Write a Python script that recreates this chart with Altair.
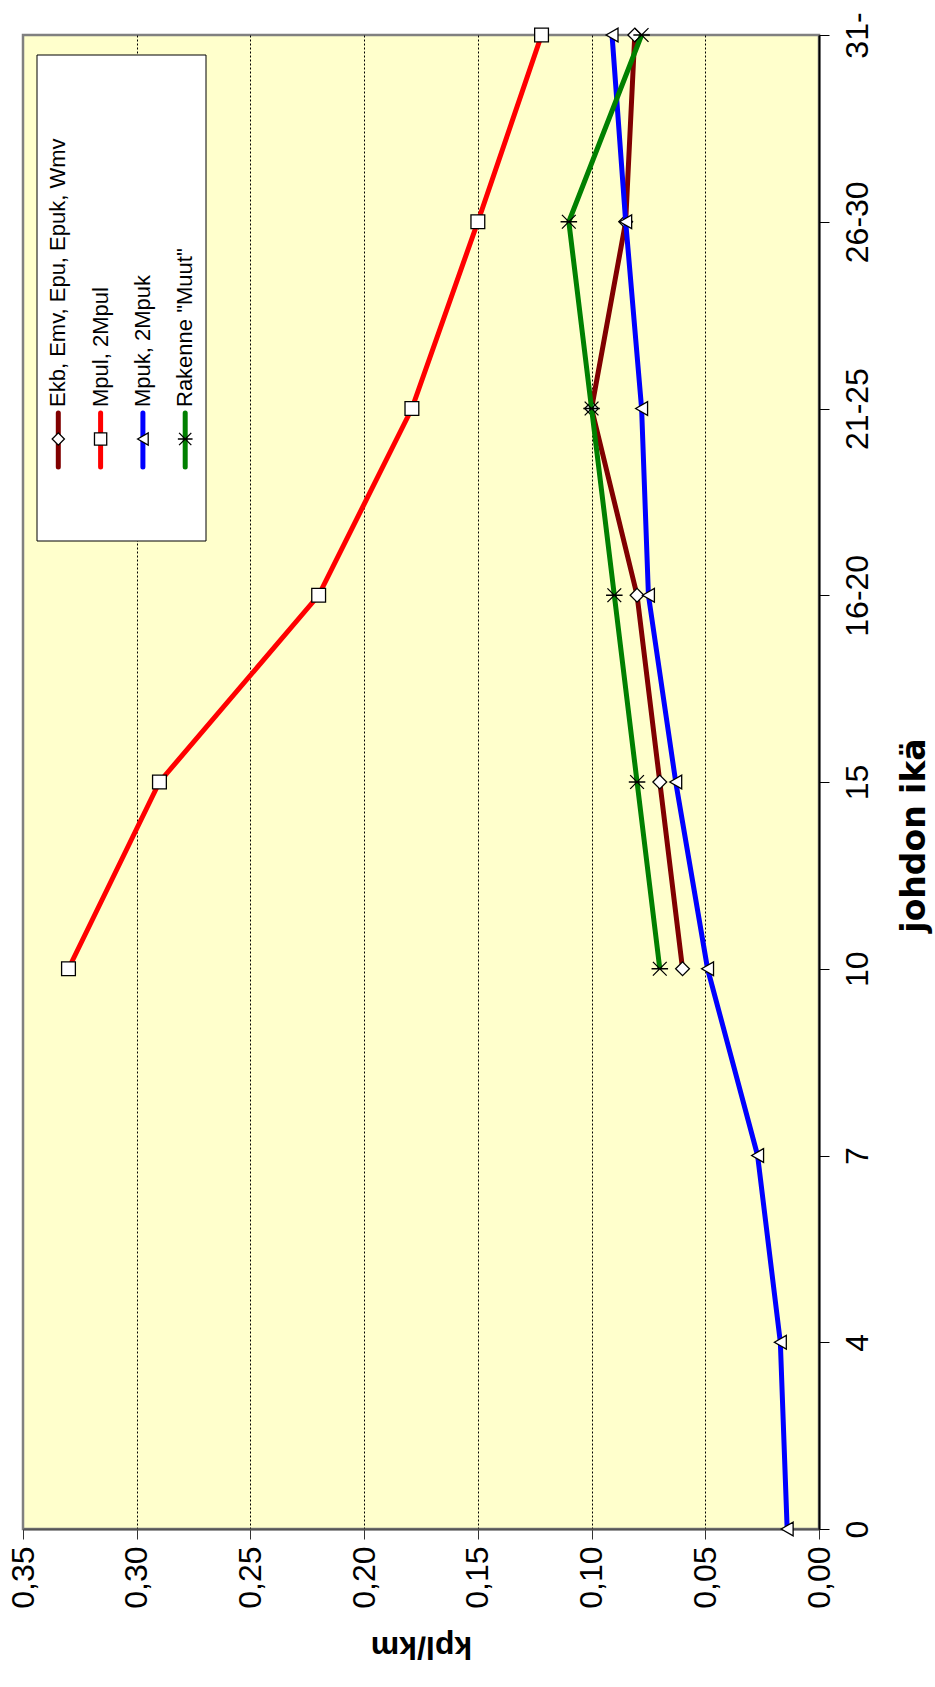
import json
import altair as alt
import pandas as pd

# Fault rate (kpl/km) by line age class, per conductor structure group
ages = ["0", "4", "7", "10", "15", "16-20", "21-25", "26-30", "31-"]
series_names = ["Ekb, Emv, Epu, Epuk, Wmv", "Mpul, 2Mpul", "Mpuk, 2Mpuk", 'Rakenne "Muut"']
ekb = [None, None, None, 0.06, 0.07, 0.08, 0.10, 0.085, 0.081]
mpul = [None, None, None, 0.33, 0.29, 0.22, 0.179, 0.15, 0.122]
mpuk = [0.014, 0.017, 0.027, 0.049, 0.063, 0.075, 0.078, 0.085, 0.091]
muut = [None, None, None, 0.07, 0.08, 0.09, 0.10, 0.11, 0.078]
value_ticks = [0.0, 0.05, 0.10, 0.15, 0.20, 0.25, 0.30, 0.35]

colors = ["#800000", "#FF0000", "#0000FF", "#008000"]
STAR = "M-1,-1L1,1M-1,1L1,-1M-1.2,0L1.2,0"
shapes = ["diamond", "square", "triangle-left", STAR]

FONT = "Liberation Sans"
W, H = 796, 1494

rows = []
for name, vals in zip(series_names, [ekb, mpul, mpuk, muut]):
    for i, v in enumerate(vals):
        if v is not None:
            rows.append({"series": name, "pos": i, "age": ages[i], "value": v})
df = pd.DataFrame(rows)

x_axis = alt.Axis(
    orient="bottom",
    values=value_ticks,
    labelExpr="replace(format(datum.value, '.2f'), '.', ',')",
    labelAngle=270,
    labelAlign="right",
    labelBaseline="middle",
    labelFont=FONT,
    labelFontSize=32,
    labelColor="black",
    labelPadding=7,
    tickSize=10,
    tickColor="#333333",
    tickWidth=1,
    domainColor="#555555",
    domainWidth=2,
    grid=True,
    gridColor="black",
    gridDash=[2, 2],
    gridWidth=1,
    gridOpacity={"condition": {"test": "datum.value < 0.001 || datum.value > 0.349", "value": 0}, "value": 1},
    title="kpl/km",
    titleFont=FONT,
    titleFontSize=32,
    titleFontWeight="bold",
    titleColor="black",
    titleAngle=180,
    titleAlign="center",
    titleBaseline="middle",
    titleX=W / 2,
    titleY=117,
)

y_axis = alt.Axis(
    orient="right",
    values=list(range(len(ages))),
    labelExpr=json.dumps(ages) + "[datum.value]",
    labelAngle=270,
    labelAlign="center",
    labelBaseline="middle",
    labelFont=FONT,
    labelFontSize=32,
    labelColor="black",
    labelPadding=28,
    tickSize=10,
    tickColor="black",
    tickWidth=1,
    domainColor="black",
    domainWidth=2,
    grid=False,
    title="johdon ikä",
    titleFont="DejaVu Sans",
    titleFontSize=33,
    titleFontWeight="bold",
    titleColor="black",
    titleAngle=270,
    titleAlign="center",
    titleBaseline="middle",
    titleX=95,
    titleY=800,
)

x_enc = alt.X("value:Q", scale=alt.Scale(domain=[0, 0.35], reverse=True, nice=False, zero=False), axis=x_axis)
y_enc = alt.Y("pos:Q", scale=alt.Scale(domain=[0, len(ages) - 1], nice=False, zero=False), axis=y_axis)

base = alt.Chart(df)
layers = []
for name, col, shp in zip(series_names, colors, shapes):
    sub = base.transform_filter(alt.datum.series == name)
    layers.append(
        sub.mark_line(color=col, strokeWidth=5, strokeJoin="round").encode(
            x=x_enc, y=y_enc, order=alt.Order("pos:Q")
        )
    )
    layers.append(
        sub.mark_point(shape=shp, filled=True, fill="white", stroke="black",
                       strokeWidth=1.3, size=190, opacity=1).encode(x=x_enc, y=y_enc)
    )

# Legend drawn by hand so that it follows the rotated layout
one = pd.DataFrame({"k": [0]})
LEG_X0, LEG_X1, LEG_Y0, LEG_Y1 = 14, 183, 20, 506
ENTRY_X0, ENTRY_STEP = 35.3, 42.3
LINE_Y0, LINE_Y1, MARK_Y, TEXT_Y = 378, 432, 404, 372

layers.append(
    alt.Chart(one).mark_rect(fill="white", stroke="black", strokeWidth=1).encode(
        x=alt.value(LEG_X0), x2=alt.value(LEG_X1), y=alt.value(LEG_Y0), y2=alt.value(LEG_Y1)
    )
)
for i, (name, col, shp) in enumerate(zip(series_names, colors, shapes)):
    px = ENTRY_X0 + i * ENTRY_STEP
    layers.append(
        alt.Chart(one).mark_rule(color=col, strokeWidth=5, strokeCap="round").encode(
            x=alt.value(px), y=alt.value(LINE_Y0), y2=alt.value(LINE_Y1)
        )
    )
    layers.append(
        alt.Chart(one).mark_point(shape=shp, filled=True, fill="white", stroke="black",
                                  strokeWidth=1.3, size=150, opacity=1).encode(
            x=alt.value(px), y=alt.value(MARK_Y)
        )
    )
    layers.append(
        alt.Chart(one).mark_text(text=name, angle=270, align="left", baseline="middle",
                                 font=FONT, fontSize=22, color="black").encode(
            x=alt.value(px), y=alt.value(TEXT_Y)
        )
    )

chart = (
    alt.layer(*layers)
    .properties(
        width=W,
        height=H,
        autosize=alt.AutoSizeParams(type="none"),
        padding={"left": 23, "top": 35, "right": 116, "bottom": 158},
        background="white",
    )
    .configure_view(fill="#FFFFCC", stroke="#808080", strokeWidth=2.5)
)

chart.save("out.html", embed_options={"renderer": "svg", "actions": False})
